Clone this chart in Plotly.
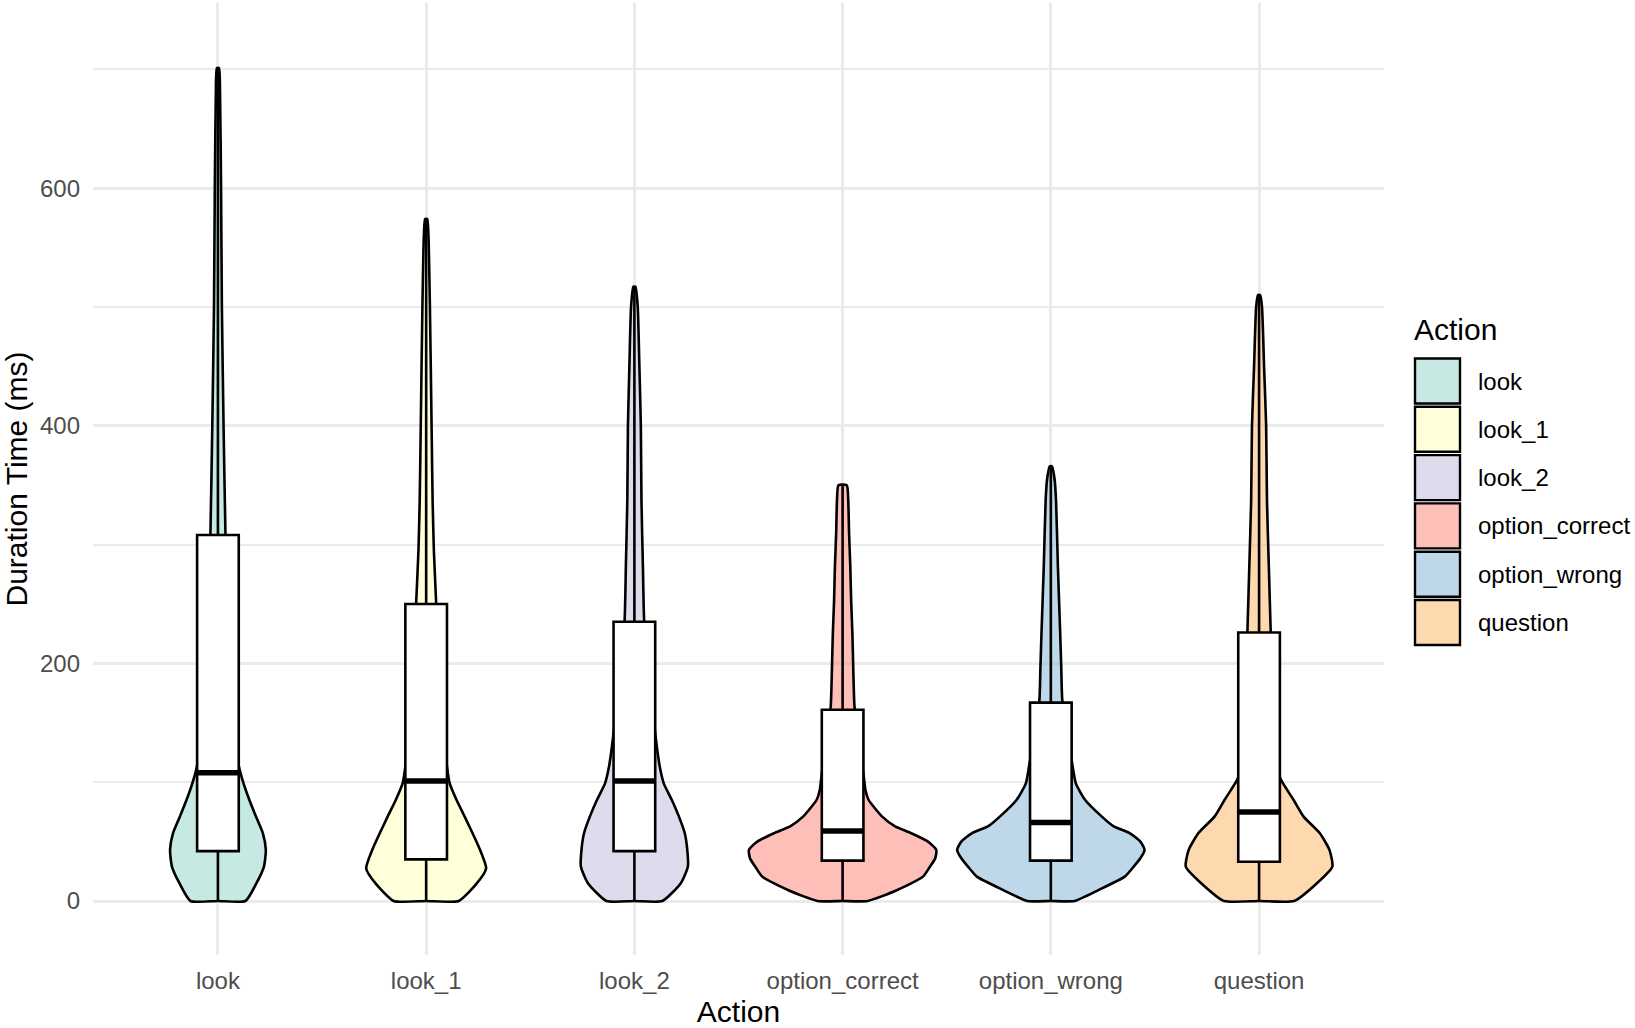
import plotly.graph_objects as go

# ---------------- data ----------------
categories = ["look", "look_1", "look_2", "option_correct", "option_wrong", "question"]
fill_colors = ["#8DD3C7", "#FFFFB3", "#BEBADA", "#FB8072", "#80B1D3", "#FDB462"]

# violin outlines: duration levels (ms) and half-width (in category units)
look_y = [0, 15, 29, 43, 57, 71, 85, 99, 113, 150, 200, 250, 310, 400, 500, 600, 680, 701]
look_hw = [0.132, 0.185, 0.221, 0.23, 0.216, 0.183, 0.151, 0.123, 0.101, 0.08, 0.06, 0.045, 0.036, 0.027, 0.019, 0.015, 0.01, 0.005]

look_1_y = [0, 15, 27.5, 43, 57, 71, 85, 99, 113, 150, 200, 251, 295, 337, 400, 500, 560, 574]
look_1_hw = [0.156, 0.244, 0.288, 0.259, 0.223, 0.185, 0.146, 0.113, 0.1, 0.08, 0.062, 0.048, 0.037, 0.031, 0.026, 0.018, 0.011, 0.005]

look_2_y = [0, 15, 29, 43, 57, 71, 85, 99, 113, 127, 141, 180, 236, 281, 337, 400, 450, 500, 517]
look_2_hw = [0.134, 0.223, 0.257, 0.254, 0.242, 0.214, 0.18, 0.141, 0.122, 0.11, 0.1, 0.075, 0.047, 0.041, 0.034, 0.031, 0.024, 0.016, 0.005]

option_correct_y = [0, 9, 20.5, 29, 36, 43, 50, 57, 63, 71, 77, 85, 93, 107, 130, 164, 197, 225, 253, 281, 310, 337, 350]
option_correct_hw = [0.12, 0.26, 0.386, 0.42, 0.445, 0.45, 0.41, 0.33, 0.25, 0.19, 0.16, 0.125, 0.11, 0.1, 0.08, 0.057, 0.051, 0.047, 0.041, 0.037, 0.031, 0.027, 0.02]

option_wrong_y = [0, 9, 20.5, 29, 36, 43, 50, 57, 63, 71, 85, 99, 113, 140, 169, 197, 225, 281, 337, 355, 366]
option_wrong_hw = [0.113, 0.226, 0.355, 0.398, 0.43, 0.45, 0.43, 0.38, 0.3, 0.245, 0.165, 0.12, 0.105, 0.08, 0.055, 0.05, 0.045, 0.034, 0.025, 0.018, 0.005]

question_y = [0, 15, 29, 43, 57, 71, 85, 99, 104, 140, 180, 226, 281, 337, 400, 450, 500, 510]
question_hw = [0.168, 0.278, 0.352, 0.338, 0.292, 0.214, 0.166, 0.115, 0.1, 0.08, 0.065, 0.056, 0.047, 0.038, 0.034, 0.024, 0.014, 0.005]

violin_levels = [look_y, look_1_y, look_2_y, option_correct_y, option_wrong_y, question_y]
violin_halfwidths = [look_hw, look_1_hw, look_2_hw, option_correct_hw, option_wrong_hw, question_hw]

# box-plot statistics (ms)
box_q1 = [42, 35, 42, 34, 34, 33]
box_median = [108, 101, 101, 59, 66, 75]
box_q3 = [308, 250, 235, 161, 167, 226]
box_low = [0, 0, 0, 0, 0, 0]
box_high = [701, 574, 517, 350, 366, 510]

y_ticks = [0, 200, 400, 600]

# ---------------- layout constants ----------------
W, H = 1635, 1028
L, R, T, B = 93, 251, 3, 73
PX_PER_MS = 1.1881
ZERO_PX = 901
FONT = "Liberation Sans, Arial, Helvetica, sans-serif"
BOX_WIDTH = 0.2
OUTLINE = 2.6


def rgba(hex_color, a):
    h = hex_color.lstrip("#")
    r, g, b = int(h[0:2], 16), int(h[2:4], 16), int(h[4:6], 16)
    return f"rgba({r},{g},{b},{a})"


fig = go.Figure()

# violins (base subplot)
for i, (cat, col, ys, hws) in enumerate(zip(categories, fill_colors, violin_levels, violin_halfwidths)):
    pos = i + 1
    xs = [pos + w for w in hws] + [pos - w for w in reversed(hws)] + [pos, pos + hws[0]]
    yy = list(ys) + list(reversed(ys)) + [ys[0], ys[0]]
    fig.add_trace(go.Scatter(
        x=xs, y=yy, mode="lines", fill="toself",
        fillcolor=rgba(col, 0.5),
        line=dict(color="black", width=OUTLINE, shape="spline", smoothing=0.55),
        name=cat, showlegend=False, hoverinfo="skip",
    ))

# boxes on an overlaid subplot so they are drawn above the violins
for i, cat in enumerate(categories):
    pos = i + 1
    fig.add_trace(go.Box(
        x=[pos], q1=[box_q1[i]], median=[box_median[i]], q3=[box_q3[i]],
        lowerfence=[box_low[i]], upperfence=[box_high[i]],
        width=BOX_WIDTH, whiskerwidth=0, fillcolor="white",
        line=dict(color="black", width=OUTLINE), boxpoints=False,
        name=cat, showlegend=False, xaxis="x2", yaxis="y2",
    ))
    fig.add_trace(go.Scatter(
        x=[pos - BOX_WIDTH / 2, pos + BOX_WIDTH / 2],
        y=[box_median[i], box_median[i]],
        mode="lines", line=dict(color="black", width=5.5),
        showlegend=False, hoverinfo="skip", xaxis="x2", yaxis="y2",
    ))

# axis ranges in data units matching the panel
plot_h = H - T - B
y_top = (ZERO_PX - T) / PX_PER_MS
y_bottom = (ZERO_PX - (H - B)) / PX_PER_MS

fig.update_layout(
    width=W, height=H,
    margin=dict(l=L, r=R, t=T, b=B, autoexpand=False),
    paper_bgcolor="white", plot_bgcolor="white",
    font=dict(family=FONT, color="black"),
    showlegend=False,
    xaxis=dict(
        range=[0.4, 6.6], tickmode="array", tickvals=list(range(1, len(categories) + 1)),
        ticktext=categories, showgrid=True, gridcolor="#EBEBEB", gridwidth=2.8,
        zeroline=False, showline=False, ticks="", automargin=False,
        tickfont=dict(size=24, color="#4D4D4D", family=FONT),
        ticklabelstandoff=9,
        title=dict(text="Action", font=dict(size=30, color="black", family=FONT), standoff=8),
    ),
    yaxis=dict(
        range=[y_bottom, y_top], tickmode="array", tickvals=y_ticks,
        ticktext=[str(v) for v in y_ticks],
        showgrid=True, gridcolor="#EBEBEB", gridwidth=2.8,
        minor=dict(tickmode="linear", tick0=100, dtick=200, showgrid=True,
                   gridcolor="#EBEBEB", gridwidth=1.5, ticks=""),
        zeroline=False, showline=False, ticks="", automargin=False,
        tickfont=dict(size=24, color="#4D4D4D", family=FONT),
        ticklabelstandoff=12,
        title=dict(text="Duration Time (ms)", font=dict(size=30, color="black", family=FONT), standoff=9),
    ),
    xaxis2=dict(overlaying="x", matches="x", visible=False),
    yaxis2=dict(overlaying="y", matches="y", visible=False),
)

# manual ggplot-style legend
plot_w = W - L - R


def xp(px):
    return (px - L) / plot_w


def yp(py):
    return (H - B - py) / plot_h


fig.add_annotation(x=xp(1412), y=yp(329), xref="paper", yref="paper", text="Action",
                   showarrow=False, xanchor="left", yanchor="middle",
                   font=dict(size=30, color="black", family=FONT))
KEY_TOP, KEY_STEP, KEY_SIZE = 358.5, 48.3, 45
for i, (cat, col) in enumerate(zip(categories, fill_colors)):
    top = KEY_TOP + i * KEY_STEP
    fig.add_shape(type="rect", xref="paper", yref="paper",
                  x0=xp(1415), x1=xp(1415 + KEY_SIZE), y0=yp(top + KEY_SIZE), y1=yp(top),
                  fillcolor=rgba(col, 0.5), line=dict(color="black", width=2.4))
    fig.add_annotation(x=xp(1476), y=yp(top + KEY_SIZE / 2), xref="paper", yref="paper",
                       text=cat, showarrow=False, xanchor="left", yanchor="middle",
                       font=dict(size=24, color="black", family=FONT))

fig.write_html("out.html")
